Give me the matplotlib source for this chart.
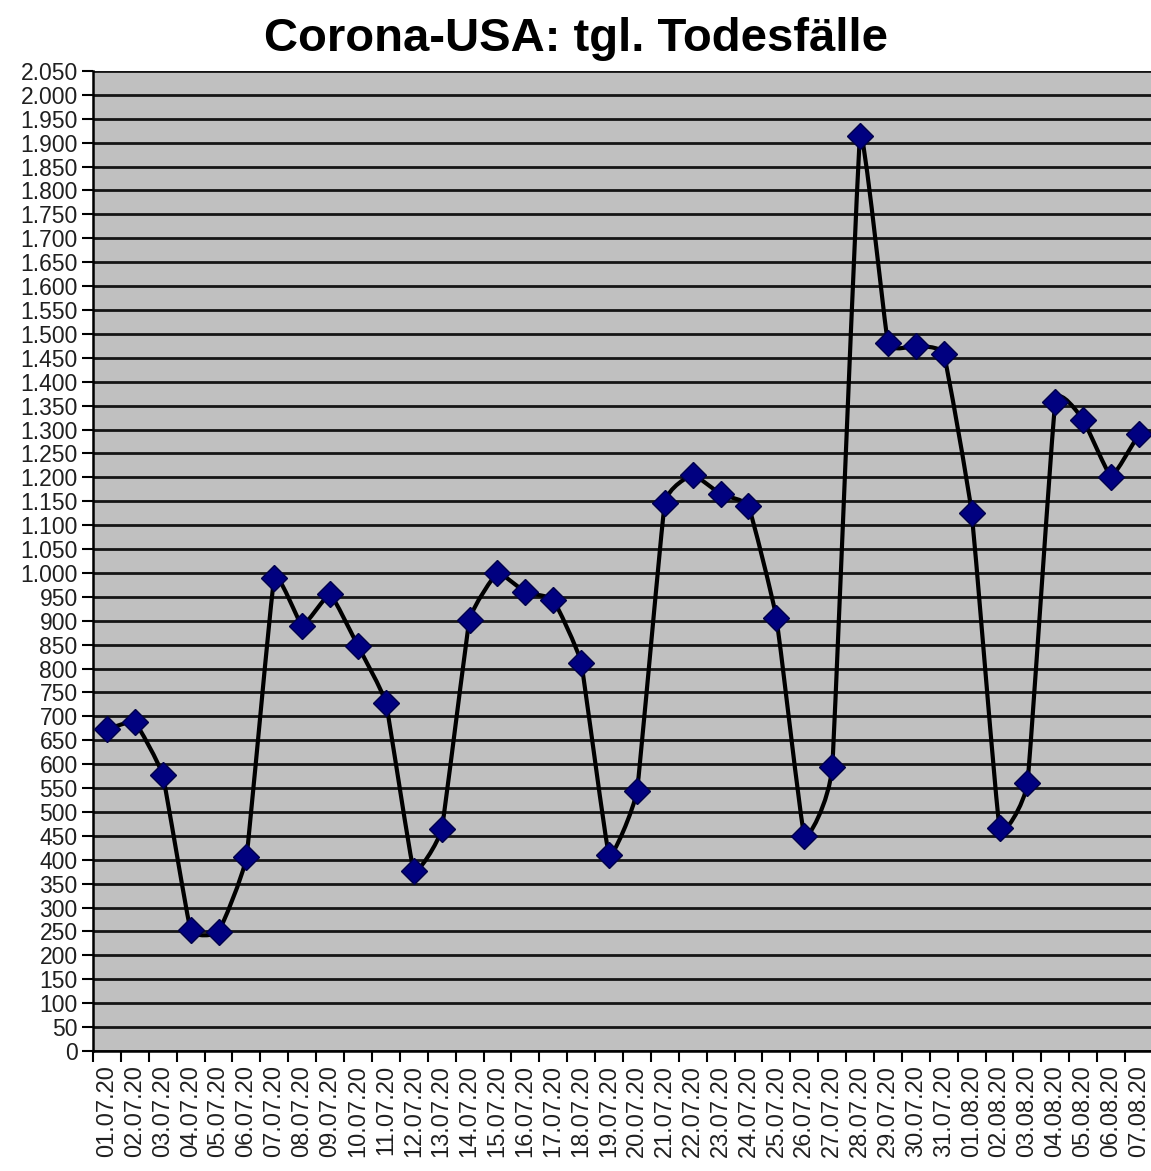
import matplotlib.pyplot as plt
from matplotlib.path import Path
from matplotlib.patches import PathPatch
from matplotlib.ticker import FuncFormatter, MultipleLocator
import numpy as np

plt.rcParams['font.family'] = ['Liberation Sans', 'DejaVu Sans']

# Daily deaths USA, 01.07.20 - 07.08.20
dates = ['01.07.20', '02.07.20', '03.07.20', '04.07.20', '05.07.20', '06.07.20',
         '07.07.20', '08.07.20', '09.07.20', '10.07.20', '11.07.20', '12.07.20',
         '13.07.20', '14.07.20', '15.07.20', '16.07.20', '17.07.20', '18.07.20',
         '19.07.20', '20.07.20', '21.07.20', '22.07.20', '23.07.20', '24.07.20',
         '25.07.20', '26.07.20', '27.07.20', '28.07.20', '29.07.20', '30.07.20',
         '31.07.20', '01.08.20', '02.08.20', '03.08.20', '04.08.20', '05.08.20',
         '06.08.20', '07.08.20']
deaths = [673, 688, 577, 253, 249, 406, 990, 889, 956, 847, 728, 377,
          464, 902, 1000, 960, 944, 812, 410, 544, 1146, 1205, 1165, 1140,
          906, 450, 594, 1914, 1481, 1475, 1458, 1126, 467, 561, 1358, 1320,
          1201, 1291]

fig = plt.figure(figsize=(11.51, 11.71), dpi=100)
ax = fig.add_axes([0.0808, 0.1025, 1.0017 - 0.0808, 0.9394 - 0.1025])
ax.set_facecolor('#c0c0c0')

x = np.arange(len(deaths), dtype=float)
y = np.array(deaths, dtype=float)

# lightly smoothed line (bezier segments through the data points)
k = 0.3 / 6
verts = [(x[0], y[0])]
codes = [Path.MOVETO]
n = len(x)
for i in range(n - 1):
    xp, yp = (x[i - 1], y[i - 1]) if i > 0 else (x[i], y[i])
    xn2, yn2 = (x[i + 2], y[i + 2]) if i + 2 < n else (x[i + 1], y[i + 1])
    c1 = (x[i] + (x[i + 1] - xp) * k, y[i] + (y[i + 1] - yp) * k)
    c2 = (x[i + 1] - (xn2 - x[i]) * k, y[i + 1] - (yn2 - y[i]) * k)
    verts += [c1, c2, (x[i + 1], y[i + 1])]
    codes += [Path.CURVE4] * 3
ax.add_patch(PathPatch(Path(verts, codes), facecolor='none', edgecolor='black',
                       lw=3, joinstyle='round', zorder=3))
ax.plot(x, y, linestyle='none', marker='D', markersize=13.5,
        markerfacecolor='#000080', markeredgecolor='#00004a', zorder=4)

ax.set_xlim(-0.5, len(deaths) - 0.5)
ax.set_ylim(0, 2050)
ax.yaxis.set_major_locator(MultipleLocator(50))
ax.yaxis.set_major_formatter(FuncFormatter(lambda v, p: f'{int(v):,}'.replace(',', '.')))
ax.grid(axis='y', color='#151515', lw=2)
ax.set_axisbelow(True)

ax.set_xticks(np.arange(len(deaths) + 1) - 0.5)
ax.set_xticklabels([])
ax.set_xticks(x, minor=True)
ax.set_xticklabels(dates, minor=True, rotation=90, fontsize=17)
ax.tick_params(axis='x', which='major', length=8, width=1.5, color='black')
ax.tick_params(axis='x', which='minor', length=0, pad=10)
ax.tick_params(axis='y', length=8, width=1.5, labelsize=16.5, pad=3, color='black')
for lbl in ax.get_yticklabels():
    lbl.set_color('#202020')
for lbl in ax.get_xticklabels(minor=True):
    lbl.set_color('#202020')

for s in ['top', 'right']:
    ax.spines[s].set_visible(False)
ax.spines['left'].set_linewidth(1.8)
ax.spines['bottom'].set_linewidth(1.8)

fig.text(0.5, 0.967, 'Corona-USA: tgl. Todesfälle', ha='center', va='center',
         fontsize=34, fontweight='bold')

fig.savefig('out.png', dpi=100)
